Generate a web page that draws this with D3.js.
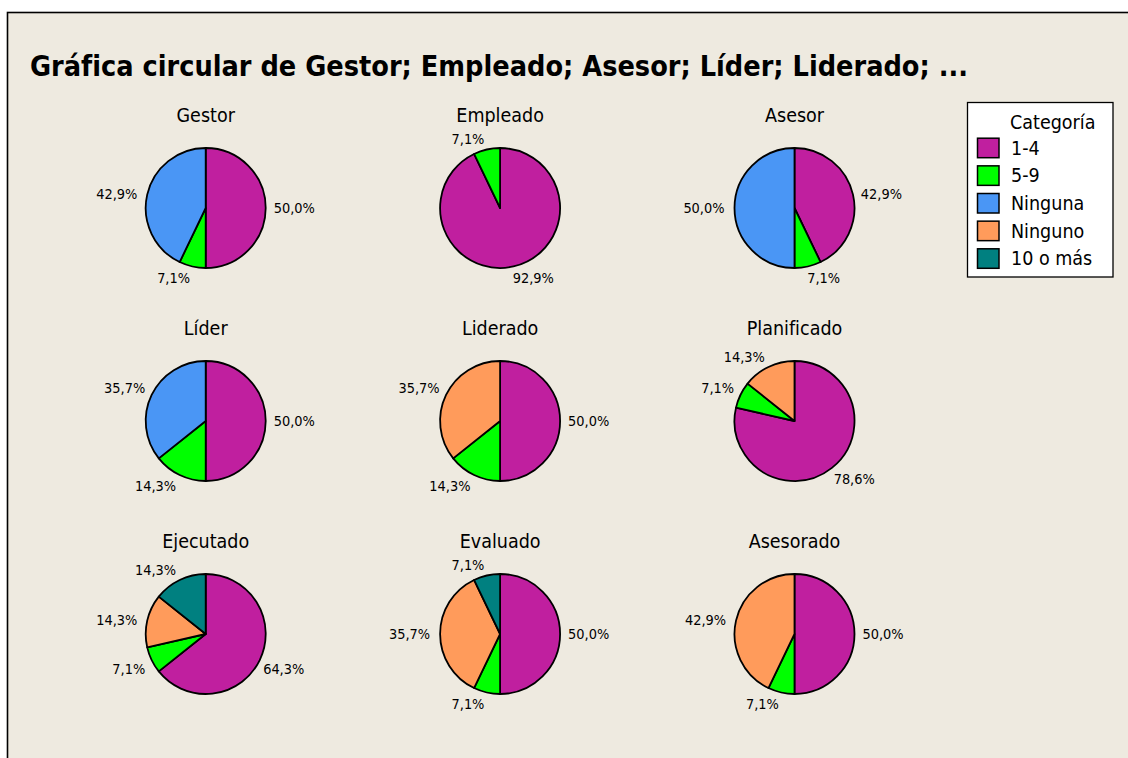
<!DOCTYPE html>
<html lang="es">
<head>
<meta charset="utf-8">
<script src="https://cdn.jsdelivr.net/npm/d3@7"></script>
<style>
  html, body { margin: 0; padding: 0; background: #ffffff; }
  svg { display: block; }
  text { font-family: "DejaVu Sans Condensed", "DejaVu Sans", sans-serif; font-stretch: condensed; fill: #000; }
</style>
</head>
<body>
<svg id="chart" width="1128" height="758"></svg>
<script>
// Response categories, in legend / slice order
const categories = ["1-4", "5-9", "Ninguna", "Ninguno", "10 o más"];
const categoryColors = ["#C01F9F", "#00FF00", "#4A96F5", "#FF9B5B", "#008080"];

// Surveyed variables, one pie each (row by row)
const variables = ["Gestor", "Empleado", "Asesor", "Líder", "Liderado",
                   "Planificado", "Ejecutado", "Evaluado", "Asesorado"];

// Counts per category for each variable (14 responses per variable)
const count14      = [7, 13, 6, 7, 7, 11, 9, 7, 7];
const count59      = [1, 1, 1, 2, 2, 1, 1, 1, 1];
const countNinguna = [6, 0, 7, 5, 0, 0, 0, 0, 0];
const countNinguno = [0, 0, 0, 0, 5, 2, 2, 5, 6];
const count10mas   = [0, 0, 0, 0, 0, 0, 2, 1, 0];

const seriesByCategory = [count14, count59, countNinguna, countNinguno, count10mas];

const titleText = "Gráfica circular de Gestor; Empleado; Asesor; Líder; Liderado; ...";

const svg = d3.select("#chart");
const W = 1128, H = 758;

// Panel background and frame
svg.append("rect")
  .attr("x", 7.5).attr("y", 12.5)
  .attr("width", W + 20).attr("height", H + 20)
  .attr("fill", "#EEEAE0")
  .attr("stroke", "#000").attr("stroke-width", 1.6);

svg.append("text")
  .attr("x", 30).attr("y", 76)
  .attr("font-size", 29).attr("font-weight", "bold")
  .attr("textLength", 938).attr("lengthAdjust", "spacingAndGlyphs")
  .text(titleText);

// Grid of pies
const colX = d3.scaleLinear().domain([0, 2]).range([205.7, 794.5]);
const rowY = d3.scaleLinear().domain([0, 2]).range([208, 634]);
const color = d3.scaleOrdinal().domain(categories).range(categoryColors);
const R = 60;

const pie = d3.pie().sort(null).value(d => d.value);
const arc = d3.arc().innerRadius(0).outerRadius(R);
const fmt = v => v.toFixed(1).replace(".", ",") + "%";

const labelFont = 14.4;
const capH = 0.73 * labelFont;
const labelR = 66;

variables.forEach((name, i) => {
  const cx = colX(i % 3), cy = rowY(Math.floor(i / 3));
  const rows = categories.map((c, k) => ({ cat: c, value: seriesByCategory[k][i] }))
                         .filter(d => d.value > 0);
  const total = d3.sum(rows, d => d.value);
  const g = svg.append("g").attr("transform", `translate(${cx},${cy})`);

  g.append("text")
    .attr("x", 0).attr("y", -86.3)
    .attr("text-anchor", "middle")
    .attr("font-size", 19.5)
    .text(name);

  const slices = pie(rows);

  g.selectAll("path.slice").data(slices).join("path")
    .attr("class", "slice")
    .attr("d", arc)
    .attr("fill", d => color(d.data.cat))
    .attr("stroke", "#000")
    .attr("stroke-width", 1.8)
    .attr("stroke-linejoin", "round");

  // Percentage labels: placed just outside the rim along each slice's mid-angle,
  // with the label corner closest to the pie touching that point.
  g.selectAll("text.pct").data(slices).join("text")
    .attr("class", "pct")
    .attr("font-size", labelFont)
    .each(function (d) {
      const a = (d.startAngle + d.endAngle) / 2;
      const s = Math.sin(a), c = Math.cos(a);
      const px = labelR * s, py = -labelR * c;
      const sideways = Math.abs(c) < 0.34;
      const right = s >= 0;
      let x, y;
      if (sideways) {
        x = right ? px + 2 : px - 4;
        y = py + capH / 2;
      } else {
        x = right ? px - 2 : px - 1;
        y = c > 0 ? py + 0.5 : py + capH + 0.5;
      }
      d3.select(this)
        .attr("x", x).attr("y", y)
        .attr("text-anchor", right ? "start" : "end")
        .text(fmt(d.value / total * 100));
    });
});

// Legend
const legend = svg.append("g");
legend.append("rect")
  .attr("x", 967.5).attr("y", 102.5)
  .attr("width", 145.5).attr("height", 174.5)
  .attr("fill", "#ffffff").attr("stroke", "#000").attr("stroke-width", 1.3);

legend.append("text")
  .attr("x", 1010).attr("y", 128.5)
  .attr("font-size", 19.5)
  .text("Categoría");

const legendRow = d3.scaleLinear().domain([0, 1]).range([137.7, 165.35]);
const items = legend.selectAll("g.item").data(categories).join("g")
  .attr("class", "item")
  .attr("transform", (d, k) => `translate(0,${legendRow(k)})`);

items.append("rect")
  .attr("x", 977.5).attr("y", 0.5)
  .attr("width", 21.5).attr("height", 19.5)
  .attr("fill", d => color(d))
  .attr("stroke", "#000").attr("stroke-width", 1.5);

items.append("text")
  .attr("x", 1011).attr("y", 17)
  .attr("font-size", 19.5)
  .text(d => d);
</script>
</body>
</html>
